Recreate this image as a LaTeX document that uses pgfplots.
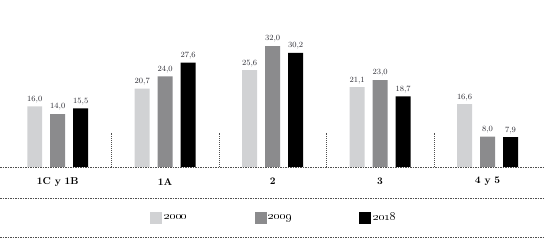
\documentclass[border=0pt]{standalone}
\usepackage{pgfplots}
\pgfplotsset{compat=1.18}
\definecolor{c2000}{HTML}{D1D2D4}
\definecolor{c2009}{HTML}{8B8B8D}
\definecolor{c2018}{HTML}{000000}
\definecolor{lbl}{HTML}{2B2B33}
\definecolor{dashc}{HTML}{505050}
\begin{document}
\begin{tikzpicture}
\begin{axis}[
  scale only axis, width=549pt, height=245pt,
  xmin=-0.535, xmax=4.572, ymin=-20.63, ymax=44.18,
  axis lines=none, ticks=none,
  ybar=8pt, bar width=15pt,
  clip=false,
  nodes near coords={\pgfmathprintnumber[use comma,fixed,fixed zerofill,precision=1]{\pgfplotspointmeta}},
  every node near coord/.append style={font=\fontsize{8.5}{10}\selectfont, color=lbl},
  legend columns=3,
  legend image code/.code={\fill[#1,draw=none] (0pt,-6pt) rectangle (12pt,6pt);},
  legend style={at={(axis cs:0.86,-13.4)}, anchor=west, draw=none, fill=none, inner sep=0pt,
    font=\fontsize{12.5}{14}\selectfont,
    /tikz/every even column/.append style={column sep=65pt}},
]
\addplot[fill=c2000, draw=none] coordinates {(0,16.0) (1,20.7) (2,25.6) (3,21.1) (4,16.6)};
\addplot[fill=c2009, draw=none] coordinates {(0,14.0) (1,24.0) (2,32.0) (3,23.0) (4,8.0)};
\addplot[fill=c2018, draw=none] coordinates {(0,15.5) (1,27.6) (2,30.2) (3,18.7) (4,7.9)};
\legend{\oldstylenums{2000},\oldstylenums{2009},\oldstylenums{2018}}
\path (rel axis cs:0,0) rectangle (rel axis cs:1,1);
\draw[dashc, line width=0.5pt, dash pattern=on 1.5pt off 1pt] (axis cs:-0.535,0) -- (axis cs:4.526,0);
\draw[dashc, line width=0.5pt, dash pattern=on 1.5pt off 1pt] (axis cs:-0.535,-8.2) -- (axis cs:4.526,-8.2);
\draw[dashc, line width=0.5pt, dash pattern=on 1.5pt off 1pt] (axis cs:-0.535,-18.6) -- (axis cs:4.526,-18.6);
\draw[dashc, line width=0.5pt, dash pattern=on 1pt off 1pt] (axis cs:0.5,0) -- (axis cs:0.5,9.07);
\draw[dashc, line width=0.5pt, dash pattern=on 1pt off 1pt] (axis cs:1.5,0) -- (axis cs:1.5,9.07);
\draw[dashc, line width=0.5pt, dash pattern=on 1pt off 1pt] (axis cs:2.5,0) -- (axis cs:2.5,9.07);
\draw[dashc, line width=0.5pt, dash pattern=on 1pt off 1pt] (axis cs:3.5,0) -- (axis cs:3.5,9.07);
\begin{scope}[every node/.style={font=\bfseries\fontsize{10}{12}\selectfont}]
\node at (axis cs:0,-3.9) {1C y 1B};
\node at (axis cs:1,-3.9) {1A};
\node at (axis cs:2,-3.9) {2};
\node at (axis cs:3,-3.9) {3};
\node at (axis cs:4,-3.9) {4 y 5};
\end{scope}
\end{axis}
\end{tikzpicture}
\end{document}
